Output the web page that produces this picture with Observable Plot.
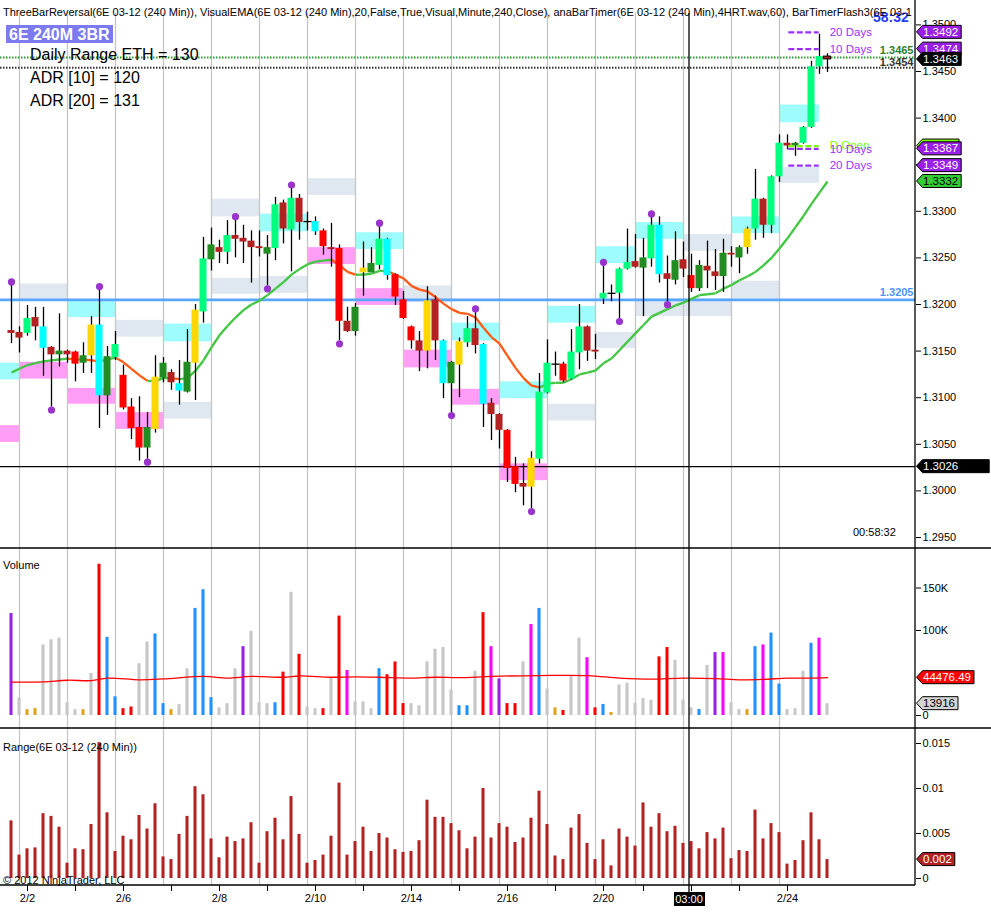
<!DOCTYPE html>
<html><head><meta charset="utf-8">
<script src="https://cdn.jsdelivr.net/npm/d3@7"></script>
<script src="https://cdn.jsdelivr.net/npm/@observablehq/plot@0.6"></script>
<style>
html,body{margin:0;padding:0;background:#fff;}
#root{position:relative;width:991px;height:914px;overflow:hidden;background:#fff;}
#root svg{position:absolute;left:0;display:block;}
</style></head><body><div id="root"></div>
<script>
// ---------------- DATA ----------------
const opens = [1.3172,1.3170,1.3169,1.3186,1.3176,1.3154,1.3146,1.3150,1.3149,1.3137,
1.3145,1.3178,1.3102,1.3143,1.3124,1.3090,1.3068,1.3046,1.3066,1.3121,
1.3127,1.3115,1.3106,1.3137,1.3192,1.3248,1.3261,1.3256,1.3274,1.3271,
1.3268,1.3262,1.3254,1.3260,1.3309,1.3280,1.3314,1.3289,1.3289,1.3279,
1.3261,1.3260,1.3182,1.3171,1.3234,1.3234,1.3242,1.3270,1.3232,1.3205,
1.3176,1.3161,1.3150,1.3205,1.3161,1.3115,1.3135,1.3159,1.3174,1.3157,
1.3094,1.3082,1.3065,1.3026,1.3008,1.3004,1.3034,1.3105,1.3136,1.3136,
1.3120,1.3148,1.3176,1.3151,1.3206,1.3212,1.3212,1.3238,1.3246,1.3239,
1.3249,1.3285,1.3233,1.3226,1.3248,1.3231,1.3217,1.3241,1.3235,1.3230,
1.3255,1.3250,1.3261,1.3281,1.3313,1.3285,1.3337,1.3373,1.3370,1.3373,
1.3390,1.3455,1.3466];
const highs = [1.3221,1.3176,1.3199,1.3197,1.3197,1.3155,1.3190,1.3151,1.3150,1.3159,
1.3187,1.3216,1.3155,1.3171,1.3135,1.3099,1.3101,1.3084,1.3145,1.3143,
1.3130,1.3140,1.3173,1.3200,1.3272,1.3282,1.3269,1.3290,1.3291,1.3285,
1.3279,1.3279,1.3274,1.3315,1.3312,1.3325,1.3318,1.3299,1.3294,1.3281,
1.3287,1.3264,1.3197,1.3201,1.3267,1.3261,1.3284,1.3271,1.3233,1.3214,
1.3177,1.3171,1.3219,1.3209,1.3162,1.3139,1.3164,1.3187,1.3192,1.3158,
1.3099,1.3083,1.3066,1.3036,1.3029,1.3042,1.3126,1.3162,1.3149,1.3138,
1.3173,1.3200,1.3177,1.3168,1.3242,1.3221,1.3239,1.3281,1.3275,1.3271,
1.3294,1.3294,1.3252,1.3278,1.3267,1.3254,1.3247,1.3268,1.3259,1.3270,
1.3262,1.3263,1.3283,1.3345,1.3314,1.3338,1.3382,1.3382,1.3374,1.3391,
1.3461,1.3490,1.3469];
const lows = [1.3158,1.3148,1.3166,1.3161,1.3123,1.3090,1.3133,1.3137,1.3117,1.3126,
1.3126,1.3067,1.3081,1.3140,1.3087,1.3055,1.3032,1.3034,1.3062,1.3116,
1.3108,1.3092,1.3105,1.3097,1.3180,1.3236,1.3244,1.3243,1.3250,1.3244,
1.3223,1.3251,1.3220,1.3247,1.3265,1.3235,1.3269,1.3279,1.3274,1.3253,
1.3240,1.3161,1.3170,1.3166,1.3209,1.3234,1.3237,1.3226,1.3199,1.3184,
1.3152,1.3128,1.3131,1.3140,1.3099,1.3084,1.3100,1.3154,1.3147,1.3068,
1.3054,1.3045,1.3009,1.2998,1.2984,1.2981,1.3029,1.3104,1.3123,1.3116,
1.3119,1.3130,1.3139,1.3141,1.3200,1.3203,1.3185,1.3237,1.3239,1.3187,
1.3240,1.3223,1.3203,1.3221,1.3229,1.3213,1.3214,1.3217,1.3215,1.3213,
1.3240,1.3233,1.3254,1.3269,1.3271,1.3276,1.3331,1.3366,1.3359,1.3372,
1.3389,1.3447,1.3449];
const closes = [1.3169,1.3164,1.3185,1.3176,1.3153,1.3146,1.3150,1.3146,1.3136,1.3145,
1.3178,1.3102,1.3144,1.3157,1.3089,1.3067,1.3046,1.3068,1.3122,1.3137,
1.3116,1.3107,1.3138,1.3194,1.3249,1.3264,1.3256,1.3274,1.3270,1.3267,
1.3261,1.3260,1.3261,1.3307,1.3281,1.3314,1.3288,1.3289,1.3278,1.3262,
1.3259,1.3182,1.3171,1.3197,1.3239,1.3244,1.3270,1.3231,1.3208,1.3185,
1.3161,1.3150,1.3204,1.3161,1.3115,1.3138,1.3160,1.3174,1.3156,1.3093,
1.3082,1.3065,1.3024,1.3007,1.3004,1.3035,1.3106,1.3137,1.3136,1.3118,
1.3149,1.3176,1.3150,1.3149,1.3212,1.3212,1.3238,1.3245,1.3240,1.3250,
1.3285,1.3232,1.3227,1.3247,1.3238,1.3217,1.3242,1.3236,1.3230,1.3255,
1.3253,1.3261,1.3281,1.3313,1.3285,1.3337,1.3373,1.3370,1.3373,1.3390,
1.3455,1.3466,1.3463];
// bar type: U strong up, u up, D strong down, d down, C reversal (cyan), Y reversal (yellow), X doji
const barTypes = ("ddUdCdudDu"+"YCuUDDDuYu"+"dCuYUudUdd"+"dduUdUdXCD"+"dDduYuUCDD"+
                  "DdYdCuYUdC"+"ddDDdYUUXD"+"UUddUXUUdu"+"UCdudDuddu"+"duYUdUUduU"+"UUd").split("");
const emaValues = [1.3127,1.3131,1.3135,1.3137,1.3139,1.3140,1.3141,1.3142,1.3141,1.3141,
1.3140,1.3139,1.3141,1.3143,1.3138,1.3131,1.3124,1.3118,1.3118,1.3121,
1.3121,1.3120,1.3121,1.3129,1.3140,1.3154,1.3167,1.3177,1.3186,1.3194,
1.3200,1.3204,1.3210,1.3217,1.3224,1.3232,1.3238,1.3243,1.3246,1.3247,
1.3248,1.3242,1.3235,1.3232,1.3232,1.3233,1.3236,1.3236,1.3232,1.3228,
1.3220,1.3216,1.3214,1.3208,1.3201,1.3195,1.3191,1.3190,1.3186,1.3175,
1.3165,1.3158,1.3145,1.3132,1.3121,1.3113,1.3111,1.3115,1.3116,1.3116,
1.3120,1.3125,1.3127,1.3129,1.3137,1.3142,1.3151,1.3160,1.3169,1.3178,
1.3187,1.3191,1.3195,1.3199,1.3202,1.3206,1.3210,1.3211,1.3212,1.3217,
1.3221,1.3226,1.3230,1.3235,1.3242,1.3250,1.3260,1.3271,1.3283,1.3295,
1.3308,1.3320,1.3332];
const volumes = [120000,20800,6900,8100,83000,89000,91000,15000,6900,6900,
49600,178000,92000,22000,8000,10000,61000,86500,96000,14000,
7000,12700,55000,126000,148000,21000,9000,14000,55000,81000,
99000,15000,14000,15000,51000,145000,72000,10000,8000,8000,
44000,117000,53000,16000,16000,8000,55000,48000,63000,14000,
14000,11500,63000,78000,80000,30000,11500,11500,52000,121000,
81000,43000,14000,14000,63000,107000,126000,31000,9000,6000,
47000,91000,68000,9000,13000,3500,36000,38000,14000,20000,
18000,69000,80000,65000,18000,9000,7000,59000,74000,74000,
15000,7000,7000,81000,83000,97000,37000,7000,8000,52000,
85000,91000,13916];
// P purple, g gray, o orange, r red, b blue, m magenta
const volTypes = ("Pgoogggggo"+"grbbrrggbb"+"oggbbbgggP"+"gggbrgrggr"+"grmgggbrrr"+
                  "ggggggbbgr"+"mPrrgmbgor"+"ggmrbogggg"+"grrgggbgPm"+"ggobmbbggg"+"bmg").split("");
const volMaIdx = [0,4,7,10,12,16,19,24,27,30,34,36,40,43,46,50,53,56,60,66,72,76,80,84,88,91,94,97,100,102];
const volMaVal = [39300,39500,41500,41000,44000,42000,43000,46000,44000,46000,45000,46500,45000,45500,45000,
                  44000,45000,44500,46000,47000,47000,44000,42700,44000,43500,42000,42500,44000,44000,44476.49];
const ranges = [0.0064,0.0026,0.0033,0.0034,0.0072,0.0069,0.0057,0.0017,0.0033,0.0032,
0.0060,0.0151,0.0073,0.0030,0.0047,0.0043,0.0070,0.0055,0.0083,0.0024,
0.0021,0.0049,0.0069,0.0102,0.0093,0.0044,0.0023,0.0046,0.0041,0.0044,
0.0062,0.0017,0.0052,0.0067,0.0043,0.0091,0.0049,0.0017,0.0020,0.0026,
0.0047,0.0106,0.0026,0.0041,0.0057,0.0030,0.0050,0.0045,0.0032,0.0029,
0.0030,0.0042,0.0087,0.0068,0.0068,0.0061,0.0053,0.0033,0.0046,0.0100,
0.0045,0.0061,0.0057,0.0040,0.0045,0.0067,0.0097,0.0060,0.0025,0.0021,
0.0056,0.0071,0.0039,0.0021,0.0043,0.0014,0.0055,0.0046,0.0036,0.0084,
0.0057,0.0072,0.0052,0.0058,0.0039,0.0041,0.0033,0.0051,0.0044,0.0056,
0.0022,0.0031,0.0030,0.0076,0.0044,0.0061,0.0051,0.0016,0.0020,0.0042,
0.0073,0.0043,0.0021];
const swingHighIdx = [0,11,28,35,46,58,74,80];
const swingLowIdx = [5,17,32,41,55,65,76,82];
// session zones (bar index span, price top/bottom, kind)
const boxStart = [-1.375,-1.375,1,1,7,7,13,13,19,19,25,25,31,31,37,37,43,43,49,49,55,55,61,61,67,67,73,73,78,78,84,84,90,90,96,96];
const boxEnd   = [1,1,7,7,13,13,19,19,25,25,31,31,37,37,43,43,49,49,55,55,61,61,67,67,73,73,78,78,84,84,90,90,96,96,101,101];
const boxTop   = [1.3137,1.3070,1.3138,1.3222,1.3204,1.3110,1.3183,1.3084,1.3179,1.3095,1.3313,1.3228,1.3297,1.3230,1.3335,1.3261,1.3277,1.3217,
                  1.3220,1.3151,1.3180,1.3109,1.3117,1.3029,1.3198,1.3093,1.3262,1.3170,1.3288,1.3206,1.3275,1.3206,1.3294,1.3225,1.3414,1.3347];
const boxBottom= [1.3119,1.3052,1.3120,1.3204,1.3186,1.3093,1.3165,1.3066,1.3160,1.3077,1.3294,1.3211,1.3278,1.3212,1.3317,1.3243,1.3259,1.3199,
                  1.3202,1.3132,1.3161,1.3092,1.3099,1.3011,1.3180,1.3075,1.3244,1.3153,1.3270,1.3187,1.3257,1.3187,1.3276,1.3206,1.3395,1.3330];
const boxKind  = ["cyan","pink","pink","gray","cyan","pink","gray","pink","cyan","gray","gray","gray","cyan","gray","gray","pink","cyan","pink",
                  "gray","pink","cyan","pink","cyan","pink","cyan","gray","cyan","gray","cyan","gray","gray","gray","cyan","gray","cyan","gray"];
const dayStarts = [1,7,13,19,25,31,37,43,49,55,61,67,73,78,84,90,96];
const xTickIdx = [2,8,14,20,26,32,38,44,50,56,62,68,74,79,85,91,97];
const xTickLabelIdx = [2,14,26,38,50,62,74,97];
const xTickLabels = ["2/2","2/6","2/8","2/10","2/14","2/16","2/20","2/24"];
const priceTicks = [1.2950,1.3000,1.3050,1.3100,1.3150,1.3200,1.3250,1.3300,1.3350,1.3400,1.3450,1.3500];
const volTicks = [0,100000,150000];
const rangeTicks = [0,0.005,0.01,0.015];
const dottedLevels = [1.3465,1.3454];
const blueLevel = 1.3205;
const periodLevels = [1.3492,1.3474,1.3367,1.3349];
const periodLabels = ["20 Days","10 Days","10 Days","20 Days"];
const periodSpan = [97.1,100.9];
const dOpenLevel = 1.3370;
const tagValues = [1.3492,1.3474,1.3463,1.3370,1.3367,1.3349,1.3332];
const tagKinds  = ["purple","purple","black","lime","purple","purple","green"];
const crossIndex = 84.75, crossPrice = 1.3026, crossTime = "03:00";
const titleText = "ThreeBarReversal(6E 03-12 (240 Min)), VisualEMA(6E 03-12 (240 Min),20,False,True,Visual,Minute,240,Close), anaBarTimer(6E 03-12 (240 Min),4HRT.wav,60), BarTimerFlash3(6E 03-1";
const infoLines = ["Daily Range ETH = 130","ADR [10] = 120","ADR [20] = 131"];

// ---------------- CHART ----------------
const FONT = '"Liberation Sans", Arial, sans-serif';
const n = opens.length;
const bars = d3.range(n).map(i => ({i, open:opens[i], high:highs[i], low:lows[i], close:closes[i],
  type:barTypes[i], vol:volumes[i], vtype:volTypes[i], range:ranges[i], ema:emaValues[i]}));
const candleFill = {U:"#00ff7f", u:"#228b22", D:"#ff0000", d:"#b22222", C:"#00ffff", Y:"#ffd700"};
const volFill = {P:"#9a20e8", g:"#c6c6c6", o:"#e0a21c", r:"#ff0000", b:"#1e90ff", m:"#ff00ff"};
const boxFill = {cyan:"#9ffcfc", pink:"#ff9df7", gray:"#dfe7f0"};
const X_DOMAIN = [-1.375, 113];
const style = {fontFamily: FONT, fontSize: "11px", color: "#000", background: "#fff", overflow: "visible"};
const boxes = boxStart.map((s,k) => ({x1:s, x2:boxEnd[k], y1:boxBottom[k], y2:boxTop[k], kind:boxKind[k]}));
const emaSegs = d3.range(n-1).map(i => ({x1:i, x2:i+1, y1:emaValues[i], y2:emaValues[i+1], up: emaValues[i+1] >= emaValues[i]}));
const periodData = periodLevels.map((v,k) => ({v, label: periodLabels[k]}));
const fmt4 = d3.format(".4f");
const halfBody = 0.44, halfBar = 0.19;

const priceChart = Plot.plot({
  width: 991, height: 548, marginTop: 0, marginBottom: 0, marginLeft: 0, marginRight: 76,
  x: {domain: X_DOMAIN, axis: null},
  y: {domain: [1.29382, 1.352618], label: null},
  style,
  marks: [
    Plot.rect(boxes, {x1:"x1", x2:"x2", y1:"y1", y2:"y2", fill: d => boxFill[d.kind]}),
    Plot.ruleX(dayStarts, {stroke:"#c6c6c6", strokeWidth:1.3}),
    Plot.ruleY([dottedLevels[0]], {stroke:"#2f9a2f", strokeWidth:2, strokeDasharray:"1.5,1.5"}),
    Plot.ruleY([dottedLevels[1]], {stroke:"#333", strokeWidth:2, strokeDasharray:"1.5,1.5"}),
    Plot.ruleY([blueLevel], {stroke:"#58a6ff", strokeWidth:2.6}),
    Plot.ruleY([crossPrice], {stroke:"#000", strokeWidth:1.2}),
    Plot.link(emaSegs, {x1:"x1", x2:"x2", y1:"y1", y2:"y2", stroke: d => d.up ? "#40c640" : "#ff5a14", strokeWidth:2.3}),
    Plot.ruleX(bars, {x:"i", y1:"low", y2:"high", stroke:"#000", strokeWidth:1.3}),
    Plot.rect(bars.filter(d => d.type !== "X"), {x1: d => d.i - halfBody, x2: d => d.i + halfBody, y1:"open", y2:"close",
      fill: d => candleFill[d.type], stroke: d => d.i === n-1 ? "#000" : "none", strokeWidth:1}),
    Plot.link(bars.filter(d => d.type === "X"), {x1: d => d.i - 0.5, x2: d => d.i + 0.5, y1:"close", y2:"close", stroke:"#000", strokeWidth:1.3}),
    Plot.dot(swingHighIdx.map(i => bars[i]), {x:"i", y:"high", dy:-3, r:3.6, fill:"#9933cc"}),
    Plot.dot(swingLowIdx.map(i => bars[i]), {x:"i", y:"low", dy:3, r:3.6, fill:"#9933cc"}),
    Plot.link(periodData, {x1: periodSpan[0], x2: periodSpan[1], y1:"v", y2:"v", stroke:"#9b30ff", strokeWidth:2.2, strokeDasharray:"6,2.5"}),
    Plot.link([dOpenLevel], {x1: periodSpan[0], x2: periodSpan[1], y1: d => d, y2: d => d, stroke:"#7cfc00", strokeWidth:2.2, strokeDasharray:"6,2.5"}),
    Plot.text([dOpenLevel], {x: periodSpan[1], y: d => d, text: () => "D Open", dx:11, dy:-1, textAnchor:"start", fill:"#7cfc00", fontSize:11.5}),
    Plot.text(periodData, {x: periodSpan[1], y:"v", text:"label", dx:11, textAnchor:"start", fill:"#9b30ff", fontSize:11.5}),
    Plot.text([dottedLevels[0]], {x: X_DOMAIN[1], y: d => d, text: d => fmt4(d), textAnchor:"end", dx:-2, dy:-7, fill:"#2e7d2e", fontWeight:"bold"}),
    Plot.text([dottedLevels[1]], {x: X_DOMAIN[1], y: d => d, text: d => fmt4(d), textAnchor:"end", dx:-2, dy:-5, fill:"#333", fontWeight:"bold"}),
    Plot.text([blueLevel], {x: X_DOMAIN[1], y: d => d, text: d => fmt4(d), textAnchor:"end", dx:-2, dy:-7, fill:"#4d94ff", fontWeight:"bold"}),
    Plot.axisY({anchor:"right", ticks: priceTicks, tickFormat: fmt4, tickSize:5, tickPadding:2, label:null})
  ]
});

const volMa = volMaIdx.map((i,k) => ({i, v: volMaVal[k]}));
const volChart = Plot.plot({
  width: 991, height: 180, marginTop: 0, marginBottom: 0, marginLeft: 0, marginRight: 76,
  x: {domain: X_DOMAIN, axis: null},
  y: {domain: [-15300, 196500], label: null},
  style,
  marks: [
    Plot.ruleX(dayStarts, {stroke:"#c6c6c6", strokeWidth:1.3}),
    Plot.rect(bars, {x1: d => d.i - halfBar, x2: d => d.i + halfBar, y1: 0, y2: "vol", fill: d => volFill[d.vtype]}),
    Plot.line(volMa, {x:"i", y:"v", stroke:"#ff0000", strokeWidth:1.3, curve:"catmull-rom"}),
    Plot.axisY({anchor:"right", ticks: volTicks, tickFormat: d => d === 0 ? "0" : (d/1000) + "K", tickSize:5, tickPadding:2, label:null})
  ]
});

const rangeChart = Plot.plot({
  width: 991, height: 186, marginTop: 0, marginBottom: 29, marginLeft: 0, marginRight: 76,
  x: {domain: X_DOMAIN},
  y: {domain: [-0.000778, 0.016667], label: null},
  style,
  marks: [
    Plot.ruleX(dayStarts, {stroke:"#c6c6c6", strokeWidth:1.3}),
    Plot.rect(bars, {x1: d => d.i - halfBar, x2: d => d.i + halfBar, y1: 0, y2: "range", fill: "#b22222"}),
    Plot.axisY({anchor:"right", ticks: rangeTicks, tickFormat: d => d === 0 ? "0" : String(d), tickSize:5, tickPadding:2, label:null}),
    Plot.axisX({anchor:"bottom", ticks: xTickIdx, tickFormat: i => { const k = xTickLabelIdx.indexOf(i); return k >= 0 ? xTickLabels[k] : ""; },
      tickSize:6, tickPadding:3, label:null})
  ]
});

const root = document.getElementById("root");
[[priceChart,0],[volChart,548],[rangeChart,728]].forEach(([el,top]) => { el.style.top = top + "px"; root.appendChild(el); });

// ---------------- OVERLAY (uses the charts' scales) ----------------
const px = priceChart.scale("x"), py = priceChart.scale("y");
const vy = volChart.scale("y"), ry = rangeChart.scale("y");
const axisX = px.apply(X_DOMAIN[1]);
const ov = d3.select(root).append("svg").attr("width",991).attr("height",914)
  .style("top","0px").style("pointer-events","none").attr("font-family", FONT);

// timer (partly hidden by the title strip)
ov.append("text").attr("x", axisX - 42).attr("y", 21.5).attr("font-size", 14).attr("font-weight","bold").attr("fill","#1f3cff").text("58:32");
ov.append("rect").attr("x",0).attr("y",0).attr("width",axisX-2).attr("height",12.5).attr("fill","#fff");
ov.append("text").attr("x",3).attr("y",15.5).attr("font-size",11).attr("textLength", axisX-6).attr("lengthAdjust","spacingAndGlyphs").text(titleText);

// instrument badge and info text
ov.append("rect").attr("x",6).attr("y",25).attr("width",107).attr("height",18).attr("fill","#7b7bef");
ov.append("text").attr("x",9).attr("y",40).attr("font-size",16).attr("font-weight","bold").attr("fill","#fff").text("6E 240M 3BR");
infoLines.forEach((t,k) => ov.append("text").attr("x",30).attr("y",[59.5,82.5,106][k]).attr("font-size",16).attr("fill","#000").text(t));
ov.append("text").attr("x",axisX-62).attr("y",536).attr("font-size",11).text("00:58:32");

// panel labels
ov.append("text").attr("x",3).attr("y",569).attr("font-size",11).text("Volume");
ov.append("text").attr("x",3).attr("y",751).attr("font-size",11).text("Range(6E 03-12 (240 Min))");
ov.append("text").attr("x",3).attr("y",884).attr("font-size",11).text("\u00a9 2012 NinjaTrader, LLC");

// separators and axis line
[548,728].forEach(y => ov.append("line").attr("x1",0).attr("x2",991).attr("y1",y).attr("y2",y).attr("stroke","#000").attr("stroke-width",1.3));
ov.append("line").attr("x1",0).attr("x2",axisX).attr("y1",885).attr("y2",885).attr("stroke","#000").attr("stroke-width",1.3);
ov.append("line").attr("x1",axisX).attr("x2",axisX).attr("y1",0).attr("y2",885).attr("stroke","#000").attr("stroke-width",1.3);

// crosshair
const cx = px.apply(crossIndex);
ov.append("line").attr("x1",cx).attr("x2",cx).attr("y1",13).attr("y2",893).attr("stroke","#000").attr("stroke-width",1.3);
ov.append("rect").attr("x",cx-15).attr("y",892).attr("width",31).attr("height",14).attr("fill","#000");
ov.append("text").attr("x",cx).attr("y",903).attr("font-size",11).attr("text-anchor","middle").attr("fill","#fff").text(crossTime);

// right-axis value tags
function tag(y, label, fill, color, extra=0, border="#000", minW=0) {
  const g = ov.append("g");
  const p = g.append("path").attr("fill", fill).attr("stroke", border).attr("stroke-width",1);
  const t = g.append("text").attr("x", axisX + 8).attr("y", y + 4).attr("font-size", 11.5).attr("fill", color).text(label);
  const w = Math.max(minW, t.node().getComputedTextLength());
  const x0 = axisX + 1.5, x1 = axisX + 8 + w + 3 + extra;
  p.attr("d", `M${x0},${y} L${x0+6},${y-6.5} L${x1},${y-6.5} L${x1},${y+6.5} L${x0+6},${y+6.5} Z`);
}
const tagStyle = {purple:["#9a1ee6","#fff"], black:["#000","#fff"], lime:["#7cfc00","#000"], green:["#33cc33","#000"]};
tagValues.forEach((v,k) => {
  const kind = tagKinds[k];
  // the D Open tag sits behind the 10-day tag; only its edge shows, so it carries no text
  tag(py.apply(v), kind === "lime" ? "" : fmt4(v), tagStyle[kind][0], tagStyle[kind][1], 0, "#000", 33);
});
tag(py.apply(crossPrice), fmt4(crossPrice), "#000", "#fff", 28);
tag(548 + vy.apply(volMaVal[volMaVal.length-1]), d3.format(".2f")(volMaVal[volMaVal.length-1]), "#ff0000", "#fff");
tag(548 + vy.apply(volumes[n-1]), String(volumes[n-1]), "#d4d4d4", "#000");
tag(728 + ry.apply(ranges[n-1]), d3.format(".3f")(ranges[n-1]), "#b22222", "#fff");
</script></body></html>
